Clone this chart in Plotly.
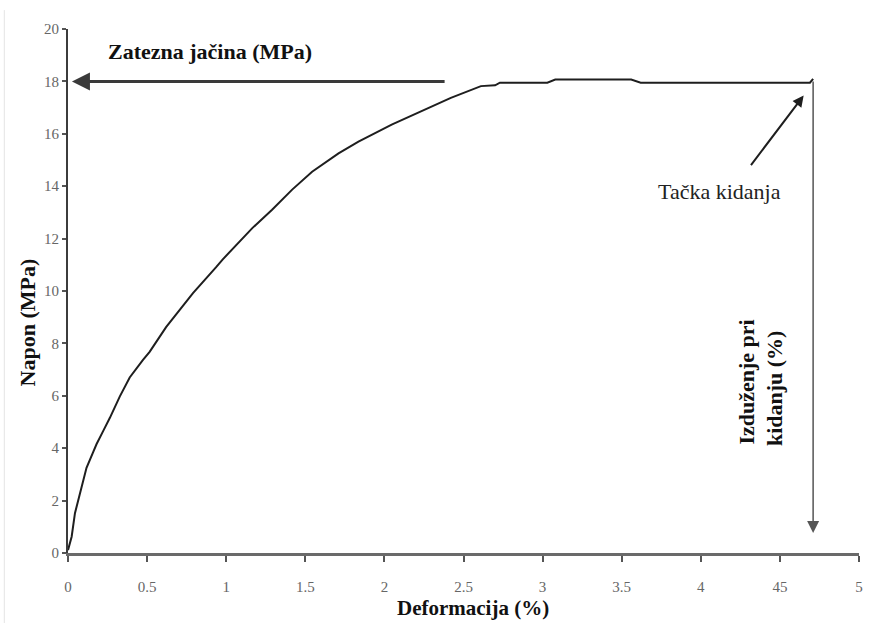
import plotly.graph_objects as go

# Stress-strain curve
strain = [0.0, 0.023, 0.044, 0.075, 0.117, 0.159, 0.18, 0.222, 0.264, 0.327,
          0.39, 0.474, 0.516, 0.62, 0.70, 0.79, 0.935, 0.977, 1.165, 1.29,
          1.417, 1.543, 1.71, 1.836, 2.046, 2.256, 2.42, 2.61, 2.70, 2.73,
          3.03, 3.08, 3.56, 3.62, 4.69, 4.71]
stress = [0.11, 0.62, 1.52, 2.28, 3.25, 3.85, 4.15, 4.65, 5.15, 5.97,
          6.70, 7.37, 7.68, 8.62, 9.25, 9.92, 10.90, 11.20, 12.4, 13.1,
          13.87, 14.55, 15.25, 15.70, 16.35, 16.93, 17.37, 17.82, 17.85, 17.95,
          17.95, 18.07, 18.07, 17.95, 17.95, 18.1]

x_ticks = [0, 0.5, 1, 1.5, 2, 2.5, 3, 3.5, 4, 4.5, 5]
x_tick_labels = ["0", "0.5", "1", "1.5", "2", "2.5", "3", "3.5", "4", "45", "5"]
y_ticks = [0, 2, 4, 6, 8, 10, 12, 14, 16, 18, 20]
y_tick_labels = ["0", "2", "4", "6", "8", "10", "12", "14", "16", "18", "20"]

tensile_strength = 18.0
break_strain = 4.71

serif = "Liberation Serif"
narrow = "Liberation Sans Narrow"

fig = go.Figure()
fig.add_trace(go.Scatter(x=strain, y=stress, mode="lines",
                         line=dict(color="#1e1e1e", width=2), hoverinfo="skip",
                         showlegend=False))

fig.update_layout(
    width=869, height=623,
    margin=dict(l=68, r=6, t=29, b=70),
    paper_bgcolor="white", plot_bgcolor="white",
    showlegend=False,
    xaxis=dict(range=[0, 5], tickvals=x_ticks, ticktext=x_tick_labels,
               showgrid=False, zeroline=False, showline=True,
               linecolor="#6a6a6a", linewidth=3, ticks="outside", ticklen=6,
               tickwidth=1.5, tickcolor="#555", ticklabelstandoff=12,
               tickfont=dict(family=narrow, size=15, color="#666")),
    yaxis=dict(range=[0, 20], tickvals=y_ticks, ticktext=y_tick_labels,
               showgrid=False, zeroline=False, showline=True,
               linecolor="#3c3c3c", linewidth=2, ticks="outside", ticklen=4,
               tickwidth=1.5, tickcolor="#555",
               tickfont=dict(family=narrow, size=15, color="#666")),
)

annotations = [
    # horizontal tensile strength arrow
    dict(x=0.025, y=tensile_strength, ax=2.39, ay=tensile_strength,
         xref="x", yref="y", axref="x", ayref="y", text="", showarrow=True,
         arrowhead=2, arrowsize=1.2, arrowwidth=3, arrowcolor="#3a3a3a"),
    # vertical elongation arrow
    dict(x=break_strain, y=0.76, ax=break_strain, ay=18.05,
         xref="x", yref="y", axref="x", ayref="y", text="", showarrow=True,
         arrowhead=2, arrowsize=1.6, arrowwidth=1.5, arrowcolor="#555"),
    # break point pointer
    dict(x=4.65, y=17.46, ax=4.31, ay=14.75,
         xref="x", yref="y", axref="x", ayref="y", text="", showarrow=True,
         arrowhead=2, arrowsize=1.1, arrowwidth=2, arrowcolor="#1e1e1e"),
    dict(x=0.90, y=19.15, xref="x", yref="y", text="<b>Zatezna jačina (MPa)</b>",
         showarrow=False, font=dict(family=serif, size=22, color="#111")),
    dict(x=4.12, y=13.8, xref="x", yref="y", text="Tačka kidanja",
         showarrow=False, font=dict(family=serif, size=22, color="#222")),
    dict(x=4.29, y=6.53, xref="x", yref="y", text="<b>Izduženje pri</b>",
         textangle=-90, showarrow=False, font=dict(family=serif, size=22, color="#111")),
    dict(x=4.47, y=6.30, xref="x", yref="y", text="<b>kidanju (%)</b>",
         textangle=-90, showarrow=False, font=dict(family=serif, size=22, color="#111")),
    dict(x=2.56, y=0, xref="x", yref="y", yshift=-55, xanchor="center",
         yanchor="middle", text="<b>Deformacija (%)</b>",
         showarrow=False, font=dict(family=serif, size=21, color="#111")),
    dict(x=0, y=8.8, xref="paper", yref="y", xshift=-41, xanchor="center",
         yanchor="middle", text="<b>Napon (MPa)</b>",
         textangle=-90, showarrow=False, font=dict(family=serif, size=22, color="#111")),
]
fig.update_layout(annotations=annotations)

# faint left border of the original figure
fig.add_shape(type="line", xref="paper", yref="paper",
              x0=-0.0805, x1=-0.0805, y0=-0.134, y1=1.036,
              line=dict(color="#e4e4e4", width=1))

fig.write_html("out.html")
